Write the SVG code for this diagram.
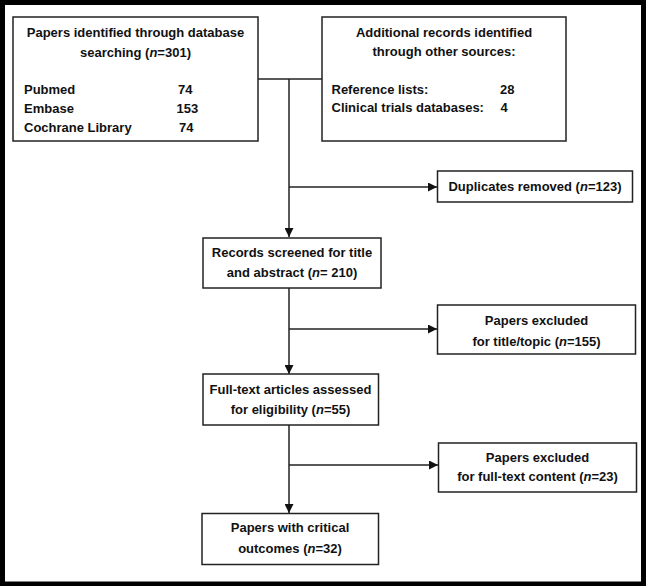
<svg xmlns="http://www.w3.org/2000/svg" width="649" height="586" viewBox="0 0 649 586">
<style>
text{font-family:"Liberation Sans",Arial,sans-serif;font-weight:bold;font-size:13px;fill:#111}
.c{text-anchor:middle}
.box{fill:#fff;stroke:#222;stroke-width:1.5}
.ln{fill:none;stroke:#222;stroke-width:1.5}
.i{font-style:italic}
</style>
<defs>
<marker id="ah" markerUnits="userSpaceOnUse" markerWidth="9" markerHeight="9" refX="9" refY="4.5" orient="auto">
<path d="M0,0 L9,4.5 L0,9 z" fill="#111"/>
</marker>
</defs>
<rect x="0" y="0" width="649" height="586" fill="#fff"/>
<rect x="2.5" y="2.5" width="641" height="581.5" fill="none" stroke="#000" stroke-width="5"/>
<g id="connectors">
<line class="ln" x1="258" y1="79" x2="322" y2="79"/>
<line class="ln" x1="289" y1="79" x2="289" y2="237" marker-end="url(#ah)"/>
<line class="ln" x1="289" y1="187" x2="437" y2="187" marker-end="url(#ah)"/>
<line class="ln" x1="289" y1="288" x2="289" y2="374" marker-end="url(#ah)"/>
<line class="ln" x1="289" y1="329" x2="437" y2="329" marker-end="url(#ah)"/>
<line class="ln" x1="289" y1="425" x2="289" y2="513" marker-end="url(#ah)"/>
<line class="ln" x1="289" y1="465" x2="438" y2="465" marker-end="url(#ah)"/>
</g>
<g id="db">
<rect class="box" x="13" y="17" width="245" height="124"/>
<text class="c" x="135.5" y="37">Papers identified through database</text>
<text class="c" x="135.5" y="56.5">searching (<tspan class="i">n</tspan>=301)</text>
<text x="24" y="94">Pubmed</text><text x="178" y="94">74</text>
<text x="24" y="112.5">Embase</text><text x="176.5" y="112.5">153</text>
<text x="24" y="131.5">Cochrane Library</text><text x="179" y="131.5">74</text>
</g>
<g id="other">
<rect class="box" x="322" y="17" width="244" height="124"/>
<text class="c" x="444" y="37">Additional records identified</text>
<text class="c" x="444" y="56">through other sources:</text>
<text x="331.5" y="94">Reference lists:</text><text x="500" y="94">28</text>
<text x="331.5" y="112">Clinical trials databases:</text><text x="500.5" y="112">4</text>
</g>
<g id="dup">
<rect class="box" x="437.5" y="171" width="195" height="31"/>
<text class="c" x="535" y="191">Duplicates removed (<tspan class="i">n</tspan>=123)</text>
</g>
<g id="screen">
<rect class="box" x="203" y="238" width="178" height="50"/>
<text class="c" x="292" y="256.5">Records screened for title</text>
<text class="c" x="292" y="276.5">and abstract (<tspan class="i">n</tspan>= 210)</text>
</g>
<g id="excl1">
<rect class="box" x="437.5" y="305" width="198" height="49"/>
<text class="c" x="536.5" y="325">Papers excluded</text>
<text class="c" x="536.5" y="346">for title/topic (<tspan class="i">n</tspan>=155)</text>
</g>
<g id="fulltext">
<rect class="box" x="203" y="374" width="175.5" height="51"/>
<text class="c" x="290.5" y="393.5">Full-text articles assessed</text>
<text class="c" x="290.5" y="413.5">for eligibility (<tspan class="i">n</tspan>=55)</text>
</g>
<g id="excl2">
<rect class="box" x="438.5" y="443" width="198" height="49"/>
<text class="c" x="537.5" y="461.5">Papers excluded</text>
<text class="c" x="537.5" y="480.5">for full-text content (<tspan class="i">n</tspan>=23)</text>
</g>
<g id="final">
<rect class="box" x="202" y="513.5" width="176.5" height="51"/>
<text class="c" x="290" y="531.5">Papers with critical</text>
<text class="c" x="290" y="552.5">outcomes (<tspan class="i">n</tspan>=32)</text>
</g>
</svg>
